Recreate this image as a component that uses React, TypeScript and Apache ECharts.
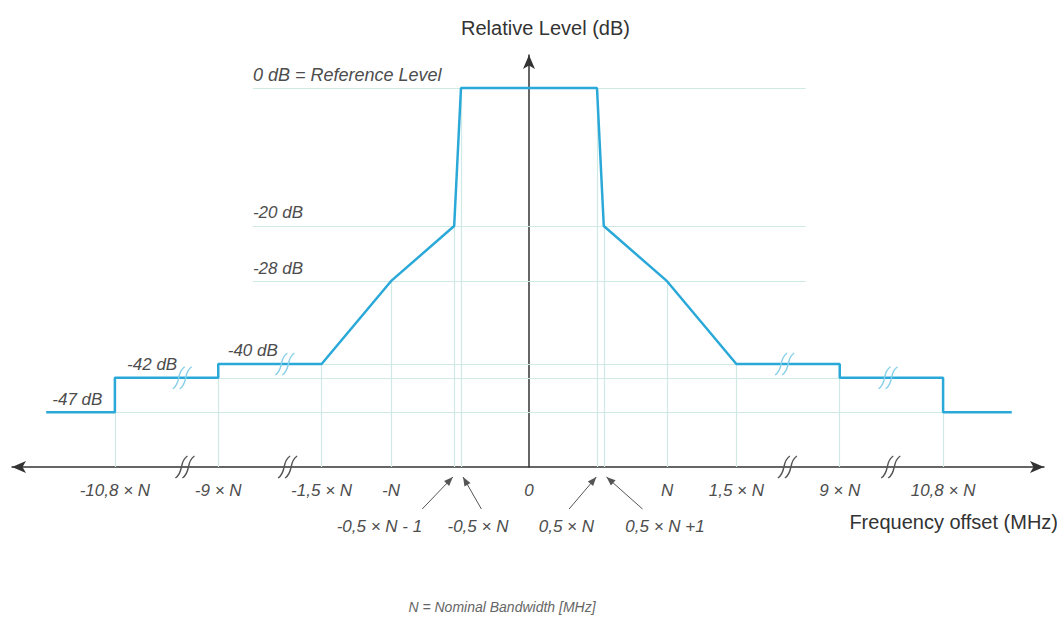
import React, { useEffect, useRef } from "react";
import * as echarts from "echarts";

// Schematic x positions (unit = 0.5 × N on the central section; breaks compress the outer parts)
const maskX = [-7.1, -6.09, -6.09, -4.57, -4.57, -3.05, -2.03, -1.1, -1, 1, 1.1, 2.03, 3.05, 4.57, 4.57, 6.09, 6.09, 7.1];
const maskDb = [-47, -47, -42, -42, -40, -40, -28, -20, 0, 0, -20, -28, -40, -40, -42, -42, -47, -47];

const tickPos = [-6.09, -4.57, -3.05, -2.03, 0, 2.03, 3.05, 4.57, 6.09];
const tickLabels = ["-10,8 × N", "-9 × N", "-1,5 × N", "-N", "0", "N", "1,5 × N", "9 × N", "10,8 × N"];

const noteLabels = ["-0,5 × N - 1", "-0,5 × N", "0,5 × N", "0,5 × N +1"];
const noteTipPos = [-1.12, -0.97, 0.99, 1.14];
const noteTailPos = [-1.57, -0.7, 0.59, 1.67];
const noteLabelPos = [-2.2, -0.75, 0.55, 2.0];

const levelDb = [0, -20, -28, -40, -42, -47];
const levelLabels = ["0 dB = Reference Level", "-20 dB", "-28 dB", "-40 dB", "-42 dB", "-47 dB"];
const levelLabelPos = [-4.06, -4.06, -4.06, -4.43, -5.91, -7.01];
const levelLineFrom = [-4.06, -4.06, -4.06, -4.57, -6.09, -6.09];
const levelLineTo = [4.07, 4.07, 4.07, 4.57, 6.09, 6.09];

const gridX = [-6.09, -4.57, -3.05, -2.03, -1.1, -1, 1, 1.1, 2.03, 3.05, 4.57, 6.09];
const gridTop = [-42, -40, -40, -28, -20, 0, 0, -20, -28, -40, -40, -42];

const breakPos = [-5.06, -3.55, 3.8, 5.32];
const breakDb = [-42, -40, -40, -42];

const X_MIN = -7.603;
const X_MAX = 7.574;
const Y_MIN = -54.93;
const Y_MAX = 4.78;

const FONT = '"Liberation Sans", Arial, sans-serif';
const TEXT = "#4d4d4d";
const GRIDC = "#cfe9e4";
const MASKC = "#2aa9d9";
const AXISC = "#333333";

export default function App() {
  const ref = useRef<HTMLDivElement>(null);
  useEffect(() => {
    if (!ref.current) return;
    const chart = echarts.init(ref.current, undefined, { renderer: "svg" });
    const gridLines: any[] = [];
    levelDb.forEach((v, i) => {
      gridLines.push({ coords: [[levelLineFrom[i], v], [levelLineTo[i], v]] });
    });
    gridX.forEach((u, i) => {
      gridLines.push({ coords: [[u, Y_MIN], [u, gridTop[i]]] });
    });
    chart.setOption({
      animation: false,
      grid: { left: 12, right: 18, top: 55, bottom: 150 },
      xAxis: {
        type: "value",
        min: X_MIN,
        max: X_MAX,
        axisLine: {
          onZero: false,
          symbol: ["arrow", "arrow"],
          symbolSize: [9, 14],
          lineStyle: { color: AXISC, width: 1.5 },
        },
        axisTick: { show: false },
        axisLabel: { show: false },
        splitLine: { show: false },
      },
      yAxis: {
        type: "value",
        min: Y_MIN,
        max: Y_MAX,
        axisLine: {
          show: true,
          onZero: true,
          symbol: ["none", "arrow"],
          symbolSize: [9, 14],
          lineStyle: { color: AXISC, width: 1.5 },
        },
        axisTick: { show: false },
        axisLabel: { show: false },
        splitLine: { show: false },
      },
      series: [
        {
          type: "lines",
          coordinateSystem: "cartesian2d",
          z: 1,
          silent: true,
          lineStyle: { color: GRIDC, width: 1.2, opacity: 1 },
          data: gridLines,
        },
        {
          type: "line",
          z: 3,
          symbol: "none",
          lineStyle: { color: MASKC, width: 2.5 },
          data: maskX.map((x, i) => [x, maskDb[i]]),
        },
      ],
    });

    const px = (u: number, v: number) => chart.convertToPixel({ gridIndex: 0 }, [u, v]) as number[];
    const axisY = px(0, Y_MIN)[1];
    const g: any[] = [];
    const text = (t: string, x: number, y: number, opts: any = {}) => ({
      type: "text",
      z: 10,
      style: {
        text: t,
        x,
        y,
        fill: opts.fill || TEXT,
        fontSize: opts.fontSize || 17,
        fontStyle: opts.fontStyle || "italic",
        fontFamily: FONT,
        textAlign: opts.align || "center",
        textVerticalAlign: "middle",
      },
    });

    tickPos.forEach((u, i) => {
      const p = px(u, Y_MIN);
      g.push(text(tickLabels[i], p[0], axisY + 23));
    });
    noteLabels.forEach((t, i) => {
      const lp = px(noteLabelPos[i], Y_MIN);
      g.push(text(t, lp[0], axisY + 59));
      const tip = [px(noteTipPos[i], Y_MIN)[0], axisY + 10];
      const tail = [px(noteTailPos[i], Y_MIN)[0], axisY + 42];
      g.push({ type: "line", z: 10, shape: { x1: tail[0], y1: tail[1], x2: tip[0], y2: tip[1] }, style: { stroke: "#555", lineWidth: 1 } });
      const dx = tip[0] - tail[0];
      const dy = tip[1] - tail[1];
      const len = Math.sqrt(dx * dx + dy * dy);
      const ux = dx / len, uy = dy / len;
      const bx = tip[0] - ux * 9, by = tip[1] - uy * 9;
      g.push({
        type: "polygon",
        z: 10,
        shape: { points: [[tip[0], tip[1]], [bx - uy * 3.5, by + ux * 3.5], [bx + uy * 3.5, by - ux * 3.5]] },
        style: { fill: "#555" },
      });
    });
    levelDb.forEach((v, i) => {
      const p = px(levelLabelPos[i], v);
      g.push(text(levelLabels[i], p[0], p[1] - 13, { align: "left", fontSize: i === 0 ? 18 : 17 }));
    });
    const breakMark = (cx: number, cy: number, color: string) => {
      [-3.5, 3.5].forEach((off) => {
        const x = cx + off;
        g.push({
          type: "bezierCurve",
          z: 11,
          shape: { x1: x - 6, y1: cy + 11, cpx1: x + 3, cpy1: cy + 5, cpx2: x - 3, cpy2: cy - 5, x2: x + 6, y2: cy - 11 },
          style: { stroke: color, lineWidth: 1.4, fill: "none" },
        });
      });
    };
    breakPos.forEach((u, i) => {
      const a = px(u, Y_MIN);
      breakMark(a[0], axisY, "#555");
      const m = px(u - 0.04, breakDb[i]);
      breakMark(m[0], m[1], "#86cfe8");
    });
    g.push(text("Relative Level (dB)", 461, 28, { align: "left", fontStyle: "normal", fontSize: 20, fill: "#333" }));
    g.push(text("Frequency offset (MHz)", 1058, 522, { align: "right", fontStyle: "normal", fontSize: 20, fill: "#333" }));
    g.push(text("N = Nominal Bandwidth [MHz]", 502, 607, { fontSize: 14, fill: "#666" }));
    chart.setOption({ graphic: g });

    return () => chart.dispose();
  }, []);
  return <div ref={ref} style={{ position: "absolute", left: 0, top: 0, width: 1062, height: 617, background: "#fff" }} />;
}
